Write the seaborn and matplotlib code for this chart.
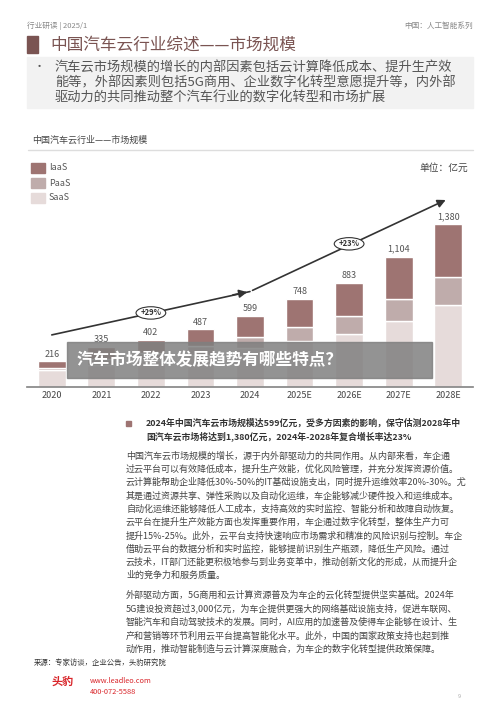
import matplotlib
matplotlib.use("Agg")
import matplotlib.pyplot as plt
import seaborn as sns
import pandas as pd
import numpy as np
from matplotlib.patches import Rectangle, Ellipse

sns.set_theme(style="white")
plt.rcParams['font.family'] = ['Noto Sans CJK SC', 'DejaVu Sans']

years = ["2020", "2021", "2022", "2023", "2024", "2025E", "2026E", "2027E", "2028E"]
totals = [216, 335, 402, 487, 599, 748, 883, 1104, 1380]
saas = [141, 190, 225, 270, 330, 388, 447, 557, 692]
paas = [23, 50, 60, 75, 94, 124, 153, 189, 238]
iaas = [52, 95, 117, 142, 175, 236, 283, 358, 450]
colors = {"IaaS": "#9e7472", "PaaS": "#bfacab", "SaaS": "#e6dbda"}

W, H = 500, 722
fig = plt.figure(figsize=(5, 7.22), dpi=100)

def fx(x): return x / W
def fy(y): return 1 - y / H

# header
fig.text(fx(27), fy(26), "行业研读 | 2025/1", fontsize=5.5, color="#888888", va="center")
fig.text(fx(473), fy(26), "中国：人工智能系列", fontsize=5.5, color="#888888", va="center", ha="right")
fig.patches.append(Rectangle((fx(27), fy(53)), fx(11), 17 / H, transform=fig.transFigure, color="#7a5452"))
fig.text(fx(50), fy(45), "中国汽车云行业综述——市场规模", fontsize=12, color="#7a5452", va="center")
fig.patches.append(Rectangle((fx(27), fy(108)), fx(446), 51 / H, transform=fig.transFigure, color="#f2f2f2"))
fig.text(fx(34), fy(67), "•", fontsize=8, color="#555555", va="center")
bullet = ["汽车云市场规模的增长的内部因素包括云计算降低成本、提升生产效",
          "能等，外部因素则包括5G商用、企业数字化转型意愿提升等，内外部",
          "驱动力的共同推动整个汽车行业的数字化转型和市场扩展"]
for i, l in enumerate(bullet):
    fig.text(fx(55), fy(68 + i * 15), l, fontsize=9.5, color="#555555", va="center")

# chart title
fig.text(fx(32), fy(140), "中国汽车云行业——市场规模", fontsize=6.5, color="#444444", va="center")
fig.lines.append(plt.Line2D([fx(28), fx(473)], [fy(150), fy(150)], transform=fig.transFigure, color="#dddddd", lw=1))
fig.text(fx(468), fy(168), "单位：亿元", fontsize=7, color="#444444", va="center", ha="right")

ax = fig.add_axes([fx(27), fy(387), fx(446), (387 - 200) / H])
df = pd.DataFrame({"year": years, "SaaS": saas, "PaaS": paas, "IaaS": iaas})
x = np.arange(len(years))
bottom = np.zeros(len(years))
for k in ["SaaS", "PaaS", "IaaS"]:
    ax.bar(x, df[k], bottom=bottom, width=0.56, color=colors[k], label=k)
    bottom += df[k].values
for xi, t in zip(x, totals):
    ax.text(xi, t + 25, f"{t:,}", ha="center", va="bottom", fontsize=6.5, color="#555555")
ax.set_xlim(-0.5, len(years) - 0.5)
ax.set_ylim(0, 1583)
ax.set_xticks(x)
ax.set_xticklabels(years, fontsize=6.5, color="#444444")
ax.set_yticks([])
for s in ["left", "right", "top"]:
    ax.spines[s].set_visible(False)
ax.spines["bottom"].set_color("#888888")
ax.tick_params(axis="x", length=0, pad=3)
ax.patch.set_alpha(0)

# arrows
ax.plot([0, 4], [441, 808], color="#333333", lw=1.2, clip_on=False)
ax.annotate("", xy=(4, 808), xytext=(3.6, 775), arrowprops=dict(arrowstyle="-|>", color="#333333", lw=1.2), annotation_clip=False)
ax.annotate("", xy=(8, 1593), xytext=(4, 808), arrowprops=dict(arrowstyle="-|>", color="#333333", lw=1.2), annotation_clip=False)
for (ex, ey, t) in [(2.0, 627, "+29%"), (6.0, 1212, "+23%")]:
    ax.add_patch(Ellipse((ex, ey), 0.6, 105, facecolor="white", edgecolor="#333333", lw=0.8, clip_on=False, zorder=5))
    ax.text(ex, ey, t, ha="center", va="center", fontsize=5.5, fontweight="bold", color="#333333", zorder=6)

# legend
for i, k in enumerate(["IaaS", "PaaS", "SaaS"]):
    fig.patches.append(Rectangle((fx(31), fy(173 + i * 15)), fx(14), 10 / H, transform=fig.transFigure, color=colors[k]))
    fig.text(fx(49), fy(168 + i * 15), k, fontsize=6.5, color="#555555", va="center")

# banner
fig.patches.append(Rectangle((fx(67), fy(378)), fx(365), 36 / H, transform=fig.transFigure, color="#808080", alpha=0.85, zorder=10))
fig.text(fx(77), fy(360), "汽车市场整体发展趋势有哪些特点？", fontsize=12, color="white", fontweight="bold", va="center", zorder=11)

# right text
fig.patches.append(Rectangle((fx(126), fy(426)), fx(5), 5 / H, transform=fig.transFigure, color="#9e7472"))
bold = ["2024年中国汽车云市场规模达599亿元，受多方因素的影响，保守估测2028年中",
        "国汽车云市场将达到1,380亿元，2024年-2028年复合增长率达23%"]
for i, l in enumerate(bold):
    fig.text(fx(146), fy(423 + i * 14), l, fontsize=6.4, color="#333333", fontweight="bold", va="center")
p1 = ["中国汽车云市场规模的增长，源于内外部驱动力的共同作用。从内部来看，车企通",
      "过云平台可以有效降低成本，提升生产效能，优化风险管理，并充分发挥资源价值。",
      "云计算能帮助企业降低30%-50%的IT基础设施支出，同时提升运维效率20%-30%。尤",
      "其是通过资源共享、弹性采购以及自动化运维，车企能够减少硬件投入和运维成本。",
      "自动化运维还能够降低人工成本，支持高效的实时监控、智能分析和故障自动恢复。",
      "云平台在提升生产效能方面也发挥重要作用，车企通过数字化转型，整体生产力可",
      "提升15%-25%。此外，云平台支持快速响应市场需求和精准的风险识别与控制。车企",
      "借助云平台的数据分析和实时监控，能够提前识别生产瓶颈，降低生产风险。通过",
      "云技术，IT部门还能更积极地参与到业务变革中，推动创新文化的形成，从而提升企",
      "业的竞争力和服务质量。"]
for i, l in enumerate(p1):
    fig.text(fx(126), fy(456 + i * 13.3), l, fontsize=6.5, color="#444444", va="center")
p2 = ["外部驱动方面，5G商用和云计算资源普及为车企的云化转型提供坚实基础。2024年",
      "5G建设投资超过3,000亿元，为车企提供更强大的网络基础设施支持，促进车联网、",
      "智能汽车和自动驾驶技术的发展。同时，AI应用的加速普及使得车企能够在设计、生",
      "产和营销等环节利用云平台提高智能化水平。此外，中国的国家政策支持也起到推",
      "动作用，推动智能制造与云计算深度融合，为车企的数字化转型提供政策保障。"]
for i, l in enumerate(p2):
    fig.text(fx(126), fy(595 + i * 13.5), l, fontsize=6.5, color="#444444", va="center")
fig.text(fx(34), fy(663), "来源：专家访谈，企业公告，头豹研究院", fontsize=5.3, color="#333333", va="center")
fig.text(fx(52), fy(681), "头豹", fontsize=8, color="#d9262b", fontweight="bold", va="center")
fig.text(fx(90), fy(681), "www.leadleo.com", fontsize=5.3, color="#d9262b", va="center")
fig.text(fx(90), fy(692), "400-072-5588", fontsize=5.3, color="#d9262b", va="center")
fig.text(fx(458), fy(697), "9", fontsize=4, color="#aaaaaa", va="center")

fig.savefig("out.png", dpi=100)
